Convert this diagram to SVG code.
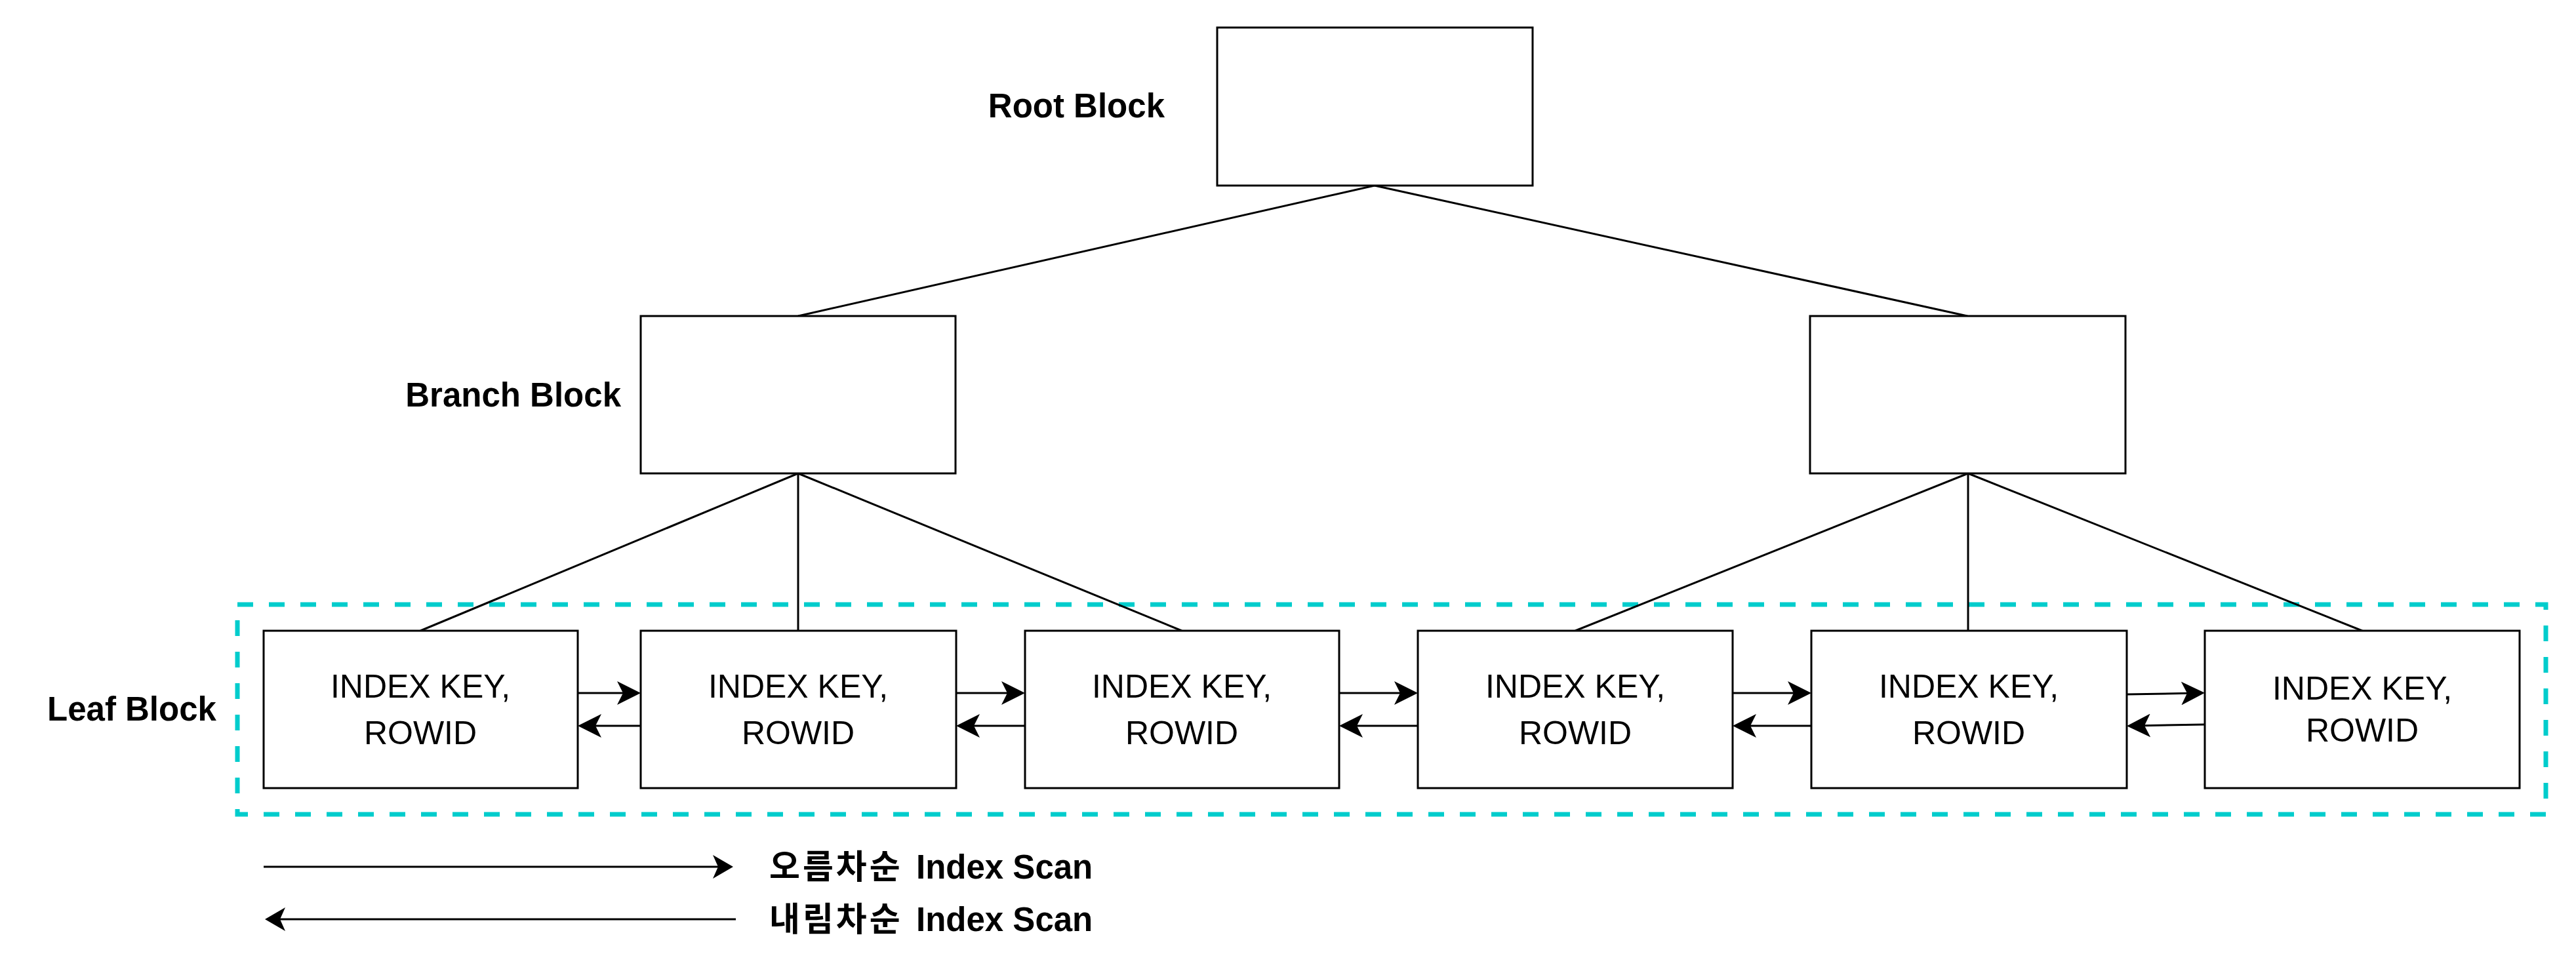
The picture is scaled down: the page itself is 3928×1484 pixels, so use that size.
<svg xmlns="http://www.w3.org/2000/svg" width="3928" height="1484" viewBox="0 0 3928 1484">
  <style>
    .box { fill: #ffffff; stroke: #000000; stroke-width: 3; }
    .line { stroke: #000000; stroke-width: 3; fill: none; }
    .arrow { stroke: #000000; stroke-width: 3; fill: none; marker-end: url(#arr); }
    .legend { stroke: #000000; stroke-width: 3; fill: none; marker-end: url(#arr2); }
    .label { font-family: "Liberation Sans", Arial, "Noto Sans CJK KR", sans-serif; font-weight: bold; font-size: 51px; fill: #000000; }
    .ko { letter-spacing: 4px; }
    .key { font-family: "Liberation Sans", Arial, sans-serif; font-size: 50px; fill: #000000; text-anchor: middle; }
    .group { fill: none; stroke: #00CCCC; stroke-width: 7; stroke-dasharray: 24 24; }
  </style>
  <defs>
    <marker id="arr" viewBox="0 0 36 36" markerWidth="36" markerHeight="36" refX="26" refY="18" orient="auto" markerUnits="userSpaceOnUse">
      <path d="M0,0 L36,18 L0,36 L9,18 Z" fill="#000000"/>
    </marker>
    <marker id="arr2" viewBox="0 0 31 36" markerWidth="31" markerHeight="36" refX="21" refY="18" orient="auto" markerUnits="userSpaceOnUse">
      <path d="M0,0 L31,18 L0,36 L8,18 Z" fill="#000000"/>
    </marker>
  </defs>
  <rect width="3928" height="1484" fill="#ffffff"/>

  <g id="leaf-group">
    <rect class="group" x="362" y="922" width="3520" height="320"/>
  </g>

  <g id="connectors">
    <line class="line" x1="2096" y1="283" x2="1217" y2="482"/>
    <line class="line" x1="2096" y1="283" x2="3000" y2="482"/>
    <line class="line" x1="1217" y1="722" x2="641" y2="962"/>
    <line class="line" x1="1217" y1="722" x2="1217" y2="962"/>
    <line class="line" x1="1217" y1="722" x2="1802" y2="962"/>
    <line class="line" x1="3001" y1="722" x2="2402" y2="962"/>
    <line class="line" x1="3001" y1="722" x2="3001" y2="962"/>
    <line class="line" x1="3001" y1="722" x2="3602" y2="962"/>

    <line class="arrow" x1="881" y1="1057" x2="967" y2="1057"/>
    <line class="arrow" x1="977" y1="1107" x2="891" y2="1107"/>
    <line class="arrow" x1="1458" y1="1057" x2="1553" y2="1057"/>
    <line class="arrow" x1="1563" y1="1107" x2="1468" y2="1107"/>
    <line class="arrow" x1="2042" y1="1057" x2="2152" y2="1057"/>
    <line class="arrow" x1="2162" y1="1107" x2="2052" y2="1107"/>
    <line class="arrow" x1="2642" y1="1057" x2="2752" y2="1057"/>
    <line class="arrow" x1="2762" y1="1107" x2="2652" y2="1107"/>
    <line class="arrow" x1="3243" y1="1059" x2="3352" y2="1057"/>
    <line class="arrow" x1="3362" y1="1105" x2="3253" y2="1107"/>

    <line class="legend" x1="402" y1="1322" x2="1108" y2="1322"/>
    <line class="legend" x1="1122" y1="1402" x2="414" y2="1402"/>
  </g>

  <g id="root-block">
    <rect class="box" x="1856" y="42" width="481" height="241"/>
  </g>
  <g id="branch-left">
    <rect class="box" x="977" y="482" width="480" height="240"/>
  </g>
  <g id="branch-right">
    <rect class="box" x="2760" y="482" width="481" height="240"/>
  </g>

  <g id="leaf-1">
    <rect class="box" x="402" y="962" width="479" height="240"/>
    <text class="key" x="641" y="1064">INDEX KEY,</text>
    <text class="key" x="641" y="1135">ROWID</text>
  </g>
  <g id="leaf-2">
    <rect class="box" x="977" y="962" width="481" height="240"/>
    <text class="key" x="1217" y="1064">INDEX KEY,</text>
    <text class="key" x="1217" y="1135">ROWID</text>
  </g>
  <g id="leaf-3">
    <rect class="box" x="1563" y="962" width="479" height="240"/>
    <text class="key" x="1802" y="1064">INDEX KEY,</text>
    <text class="key" x="1802" y="1135">ROWID</text>
  </g>
  <g id="leaf-4">
    <rect class="box" x="2162" y="962" width="480" height="240"/>
    <text class="key" x="2402" y="1064">INDEX KEY,</text>
    <text class="key" x="2402" y="1135">ROWID</text>
  </g>
  <g id="leaf-5">
    <rect class="box" x="2762" y="962" width="481" height="240"/>
    <text class="key" x="3002" y="1064">INDEX KEY,</text>
    <text class="key" x="3002" y="1135">ROWID</text>
  </g>
  <g id="leaf-6">
    <rect class="box" x="3362" y="962" width="480" height="240"/>
    <text class="key" x="3602" y="1067">INDEX KEY,</text>
    <text class="key" x="3602" y="1131">ROWID</text>
  </g>

  <g id="labels">
    <text class="label" x="1776" y="179" text-anchor="end">Root Block</text>
    <text class="label" x="947" y="620" text-anchor="end">Branch Block</text>
    <text class="label" x="72" y="1099">Leaf Block</text>
  </g>

  <g id="legend">
    <text class="label" x="1173" y="1340"><tspan class="ko">오름차순</tspan> <tspan x="1397">Index Scan</tspan></text>
    <text class="label" x="1173" y="1420"><tspan class="ko">내림차순</tspan> <tspan x="1397">Index Scan</tspan></text>
  </g>
</svg>
